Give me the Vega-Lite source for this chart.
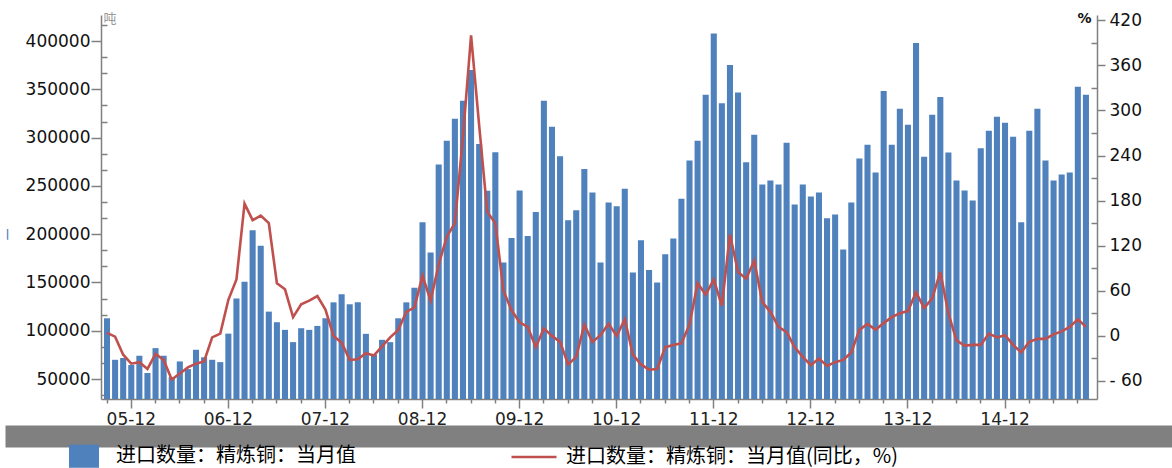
{
  "$schema": "https://vega.github.io/schema/vega-lite/v6.json",
  "background": "white",
  "padding": {"left": 5, "top": 11, "right": 0, "bottom": 0},
  "spacing": -2,
  "columns": 1,
  "align": "none",
  "bounds": "full",
  "config": {"view": {"stroke": null}, "font": "DejaVu Sans"},
  "concat": [
    {
      "width": 996,
      "height": 384,
      "data": {"values": [
        {"m":"2005-09","v":112900,"r":4},{"m":"2005-10","v":69900,"r":-1},{"m":"2005-11","v":71700,"r":-25},{"m":"2005-12","v":64500,"r":-37},
        {"m":"2006-01","v":74100,"r":-35},{"m":"2006-02","v":56200,"r":-44},{"m":"2006-03","v":82000,"r":-24},{"m":"2006-04","v":74100,"r":-32},{"m":"2006-05","v":52000,"r":-58},{"m":"2006-06","v":68200,"r":-50},{"m":"2006-07","v":60300,"r":-42},{"m":"2006-08","v":80300,"r":-37},{"m":"2006-09","v":72500,"r":-34},{"m":"2006-10","v":69900,"r":-2},{"m":"2006-11","v":67500,"r":3},{"m":"2006-12","v":97000,"r":48},
        {"m":"2007-01","v":133500,"r":75},{"m":"2007-02","v":150700,"r":176},{"m":"2007-03","v":204000,"r":154},{"m":"2007-04","v":187900,"r":160},{"m":"2007-05","v":119800,"r":150},{"m":"2007-06","v":108800,"r":70},{"m":"2007-07","v":100900,"r":62},{"m":"2007-08","v":88200,"r":25},{"m":"2007-09","v":102600,"r":42},{"m":"2007-10","v":100900,"r":47},{"m":"2007-11","v":105000,"r":53},{"m":"2007-12","v":112900,"r":35},
        {"m":"2008-01","v":129400,"r":0},{"m":"2008-02","v":137700,"r":-9},{"m":"2008-03","v":127400,"r":-32},{"m":"2008-04","v":129400,"r":-31},{"m":"2008-05","v":96800,"r":-23},{"m":"2008-06","v":75000,"r":-26},{"m":"2008-07","v":90600,"r":-14},{"m":"2008-08","v":88200,"r":-2},{"m":"2008-09","v":112900,"r":8},{"m":"2008-10","v":129400,"r":32},{"m":"2008-11","v":144500,"r":38},{"m":"2008-12","v":212300,"r":80},
        {"m":"2009-01","v":181000,"r":47},{"m":"2009-02","v":272100,"r":95},{"m":"2009-03","v":296800,"r":132},{"m":"2009-04","v":319500,"r":150},{"m":"2009-05","v":338100,"r":265},{"m":"2009-06","v":370000,"r":400},{"m":"2009-07","v":293400,"r":280},{"m":"2009-08","v":245000,"r":165},{"m":"2009-09","v":284800,"r":150},{"m":"2009-10","v":170700,"r":60},{"m":"2009-11","v":196100,"r":34},{"m":"2009-12","v":245300,"r":18},
        {"m":"2010-01","v":198200,"r":12},{"m":"2010-02","v":222900,"r":-15},{"m":"2010-03","v":338100,"r":10},{"m":"2010-04","v":311300,"r":0},{"m":"2010-05","v":280700,"r":-8},{"m":"2010-06","v":214400,"r":-38},{"m":"2010-07","v":224700,"r":-28},{"m":"2010-08","v":267600,"r":15},{"m":"2010-09","v":243200,"r":-8},{"m":"2010-10","v":170700,"r":1},{"m":"2010-11","v":232900,"r":16},{"m":"2010-12","v":228800,"r":0},
        {"m":"2011-01","v":247000,"r":22},{"m":"2011-02","v":160400,"r":-25},{"m":"2011-03","v":193700,"r":-38},{"m":"2011-04","v":162800,"r":-45},{"m":"2011-05","v":150000,"r":-44},{"m":"2011-06","v":179300,"r":-15},{"m":"2011-07","v":195400,"r":-12},{"m":"2011-08","v":236700,"r":-10},{"m":"2011-09","v":276200,"r":15},{"m":"2011-10","v":296800,"r":70},{"m":"2011-11","v":344300,"r":55},{"m":"2011-12","v":407900,"r":75},
        {"m":"2012-01","v":335700,"r":40},{"m":"2012-02","v":375200,"r":135},{"m":"2012-03","v":346700,"r":85},{"m":"2012-04","v":274500,"r":76},{"m":"2012-05","v":303000,"r":100},{"m":"2012-06","v":251500,"r":45},{"m":"2012-07","v":255600,"r":32},{"m":"2012-08","v":251500,"r":12},{"m":"2012-09","v":294800,"r":5},{"m":"2012-10","v":230800,"r":-15},{"m":"2012-11","v":251500,"r":-28},{"m":"2012-12","v":239100,"r":-39},
        {"m":"2013-01","v":243200,"r":-30},{"m":"2013-02","v":216400,"r":-40},{"m":"2013-03","v":220500,"r":-35},{"m":"2013-04","v":184100,"r":-32},{"m":"2013-05","v":232900,"r":-22},{"m":"2013-06","v":278300,"r":8},{"m":"2013-07","v":292700,"r":16},{"m":"2013-08","v":263900,"r":8},{"m":"2013-09","v":348400,"r":17},{"m":"2013-10","v":292700,"r":25},{"m":"2013-11","v":329800,"r":30},{"m":"2013-12","v":313300,"r":33},
        {"m":"2014-01","v":397900,"r":58},{"m":"2014-02","v":280300,"r":37},{"m":"2014-03","v":323700,"r":50},{"m":"2014-04","v":342200,"r":85},{"m":"2014-05","v":284500,"r":30},{"m":"2014-06","v":255600,"r":-6},{"m":"2014-07","v":245300,"r":-13},{"m":"2014-08","v":235000,"r":-12},{"m":"2014-09","v":288900,"r":-12},{"m":"2014-10","v":307200,"r":3},{"m":"2014-11","v":321600,"r":-2},{"m":"2014-12","v":315400,"r":1},
        {"m":"2015-01","v":301000,"r":-12},{"m":"2015-02","v":212300,"r":-22},{"m":"2015-03","v":307200,"r":-8},{"m":"2015-04","v":329800,"r":-4},{"m":"2015-05","v":276200,"r":-4},{"m":"2015-06","v":255600,"r":2},{"m":"2015-07","v":261800,"r":6},{"m":"2015-08","v":263900,"r":12},{"m":"2015-09","v":352600,"r":22},{"m":"2015-10","v":344300,"r":12}
      ]},
      "layer": [
        {
          "mark": {"type": "bar", "clip": true},
          "encoding": {
            "x": {
              "field": "m", "type": "ordinal",
              "scale": {"paddingInner": 0.25, "paddingOuter": 0.68, "align": 0.27},
              "axis": {
                "values": ["2005-09","2005-12","2006-03","2006-06","2006-09","2006-12","2007-03","2007-06","2007-09","2007-12","2008-03","2008-06","2008-09","2008-12","2009-03","2009-06","2009-09","2009-12","2010-03","2010-06","2010-09","2010-12","2011-03","2011-06","2011-09","2011-12","2012-03","2012-06","2012-09","2012-12","2013-03","2013-06","2013-09","2013-12","2014-03","2014-06","2014-09","2014-12","2015-03","2015-06","2015-09"],
                "labelExpr": "slice(datum.value,5)=='12' ? slice(datum.value,2,4)+'-12' : ''",
                "labelAngle": 0,
                "labelFontSize": 17,
                "labelColor": "#222222",
                "labelPadding": 3,
                "tickSize": {"condition": {"test": "slice(datum.value,5)=='12'", "value": 9}, "value": 4},
                "tickColor": "#808080",
                "tickWidth": 1.5,
                "domainColor": "#808080",
                "domainWidth": 1.5,
                "title": "|",
                "titleX": -96,
                "titleY": -166,
                "titleAngle": 0,
                "titleAlign": "left",
                "titleBaseline": "middle",
                "titleColor": "#4f81bd",
                "titleFontSize": 11,
                "titleFontWeight": "bold"
              }
            },
            "y": {
              "field": "v", "type": "quantitative",
              "scale": {"domain": [29300, 427000], "nice": false, "zero": false},
              "axis": {
                "orient": "left",
                "values": [33333.33,50000,66666.67,83333.33,100000,116666.67,133333.33,150000,166666.67,183333.33,200000,216666.67,233333.33,250000,266666.67,283333.33,300000,316666.67,333333.33,350000,366666.67,383333.33,400000,416666.67],
                "labelExpr": "datum.value % 50000 === 0 ? '' + datum.value : ''",
                "tickSize": {"condition": {"test": "datum.value % 50000 === 0", "value": 10}, "value": -6},
                "tickColor": "#808080",
                "tickWidth": 1.5,
                "domainColor": "#808080",
                "domainWidth": 1.5,
                "labelFontSize": 17,
                "labelColor": "#111111",
                "labelPadding": 1,
                "grid": false,
                "title": "吨",
                "titleAngle": 0,
                "titleX": 2,
                "titleY": -3,
                "titleAlign": "left",
                "titleBaseline": "top",
                "titleColor": "#999999",
                "titleFont": "Noto Sans CJK SC",
                "titleFontSize": 13,
                "titleFontWeight": "normal"
              }
            },
            "color": {
              "datum": "进口数量：精炼铜：当月值",
              "type": "nominal",
              "scale": {"domain": ["进口数量：精炼铜：当月值", "进口数量：精炼铜：当月值(同比，%)"], "range": ["#4f81bd", "#c0504d"]},
              "legend": {
                "orient": "none",
                "legendX": -27,
                "legendY": 431,
                "direction": "horizontal",
                "title": null,
                "padding": 0,
                "labelFont": "Noto Sans CJK SC",
                "labelFontSize": 20,
                "labelColor": "#000000",
                "labelLimit": 600,
                "labelOffset": 22,
                "columnPadding": 150,
                "symbolSize": 900,
                "encode": {
                  "symbols": {
                    "update": {
                      "shape": {"signal": "datum.index === 0 ? 'M-1,-0.77H1V0.77H-1Z' : 'M-1,0H1'"},
                      "fill": {"signal": "datum.index === 0 ? '#79b64a' : 'transparent'"},
                      "stroke": {"signal": "datum.index === 0 ? '#79b64a' : '#5050c8'"},
                      "strokeWidth": {"signal": "datum.index === 0 ? 0 : 2.5"},
                      "size": {"signal": "datum.index === 0 ? 900 : 2025"},
                      "opacity": {"value": 1}
                    }
                  }
                }
              }
            }
          }
        },
        {
          "mark": {"type": "line", "strokeWidth": 2.6},
          "encoding": {
            "x": {"field": "m", "type": "ordinal"},
            "y": {
              "field": "r", "type": "quantitative",
              "scale": {"domain": [-84, 427], "nice": false, "zero": false},
              "axis": {
                "orient": "right",
                "values": [-60,-30,0,30,60,90,120,150,180,210,240,270,300,330,360,390,420],
                "labelExpr": "datum.value % 60 === 0 ? (datum.value < 0 ? '- ' + abs(datum.value) : '' + datum.value) : ''",
                "tickSize": {"condition": {"test": "datum.value % 60 === 0", "value": 8}, "value": -6},
                "tickColor": "#808080",
                "tickWidth": 1.5,
                "domainColor": "#808080",
                "domainWidth": 1.5,
                "labelFontSize": 17,
                "labelColor": "#111111",
                "labelPadding": 4,
                "grid": false,
                "title": "%",
                "titleAngle": 0,
                "titleX": -20,
                "titleY": -4,
                "titleAlign": "left",
                "titleBaseline": "top",
                "titleColor": "#111111",
                "titleFontSize": 14,
                "titleFontWeight": "bold"
              }
            },
            "color": {"datum": "进口数量：精炼铜：当月值(同比，%)", "type": "nominal"}
          }
        }
      ],
      "resolve": {"scale": {"y": "independent"}}
    },
    {
      "width": 1167,
      "height": 22,
      "data": {"values": [{}]},
      "mark": {"type": "text", "text": ""},
      "encoding": {
        "x": {
          "datum": 0, "type": "quantitative",
          "scale": {"domain": [0, 1]},
          "axis": {
            "orient": "top",
            "position": -96,
            "offset": -11,
            "domainWidth": 22,
            "domainColor": "#808080",
            "domainCap": "butt",
            "ticks": false,
            "labels": false,
            "grid": false,
            "title": null
          }
        }
      }
    }
  ]
}
